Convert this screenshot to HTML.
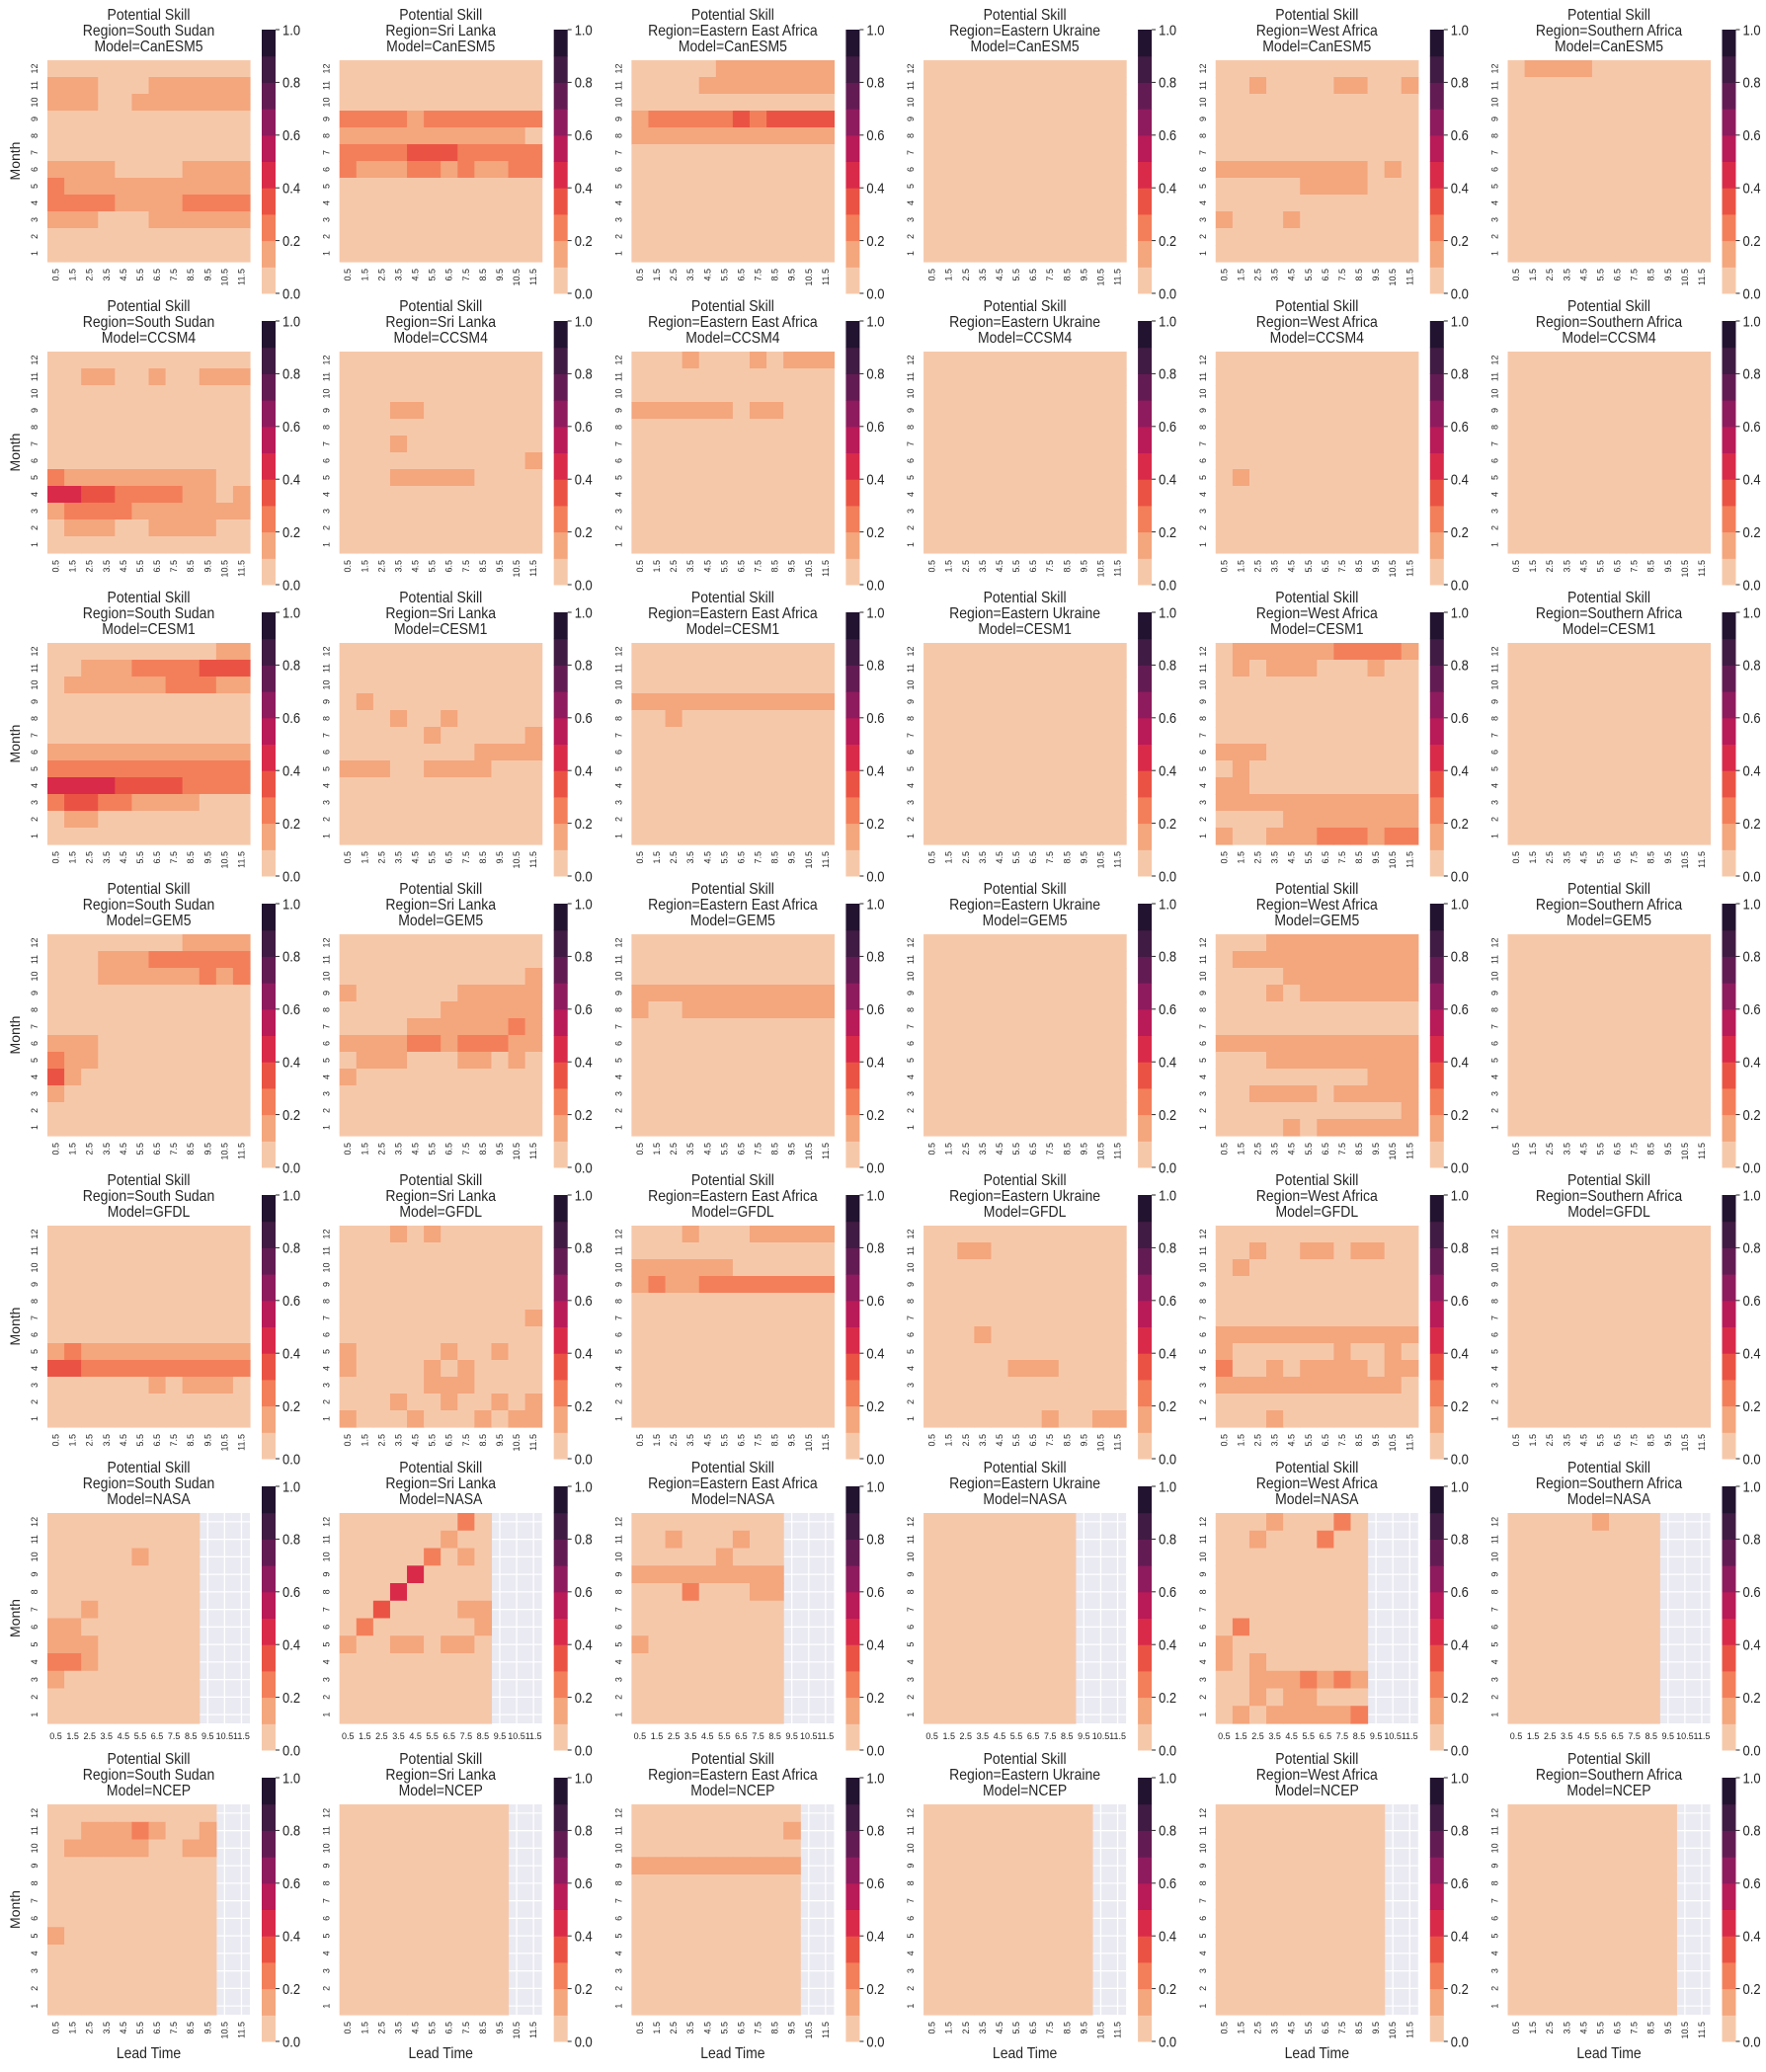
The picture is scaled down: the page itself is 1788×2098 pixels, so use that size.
<!DOCTYPE html>
<html><head><meta charset="utf-8"><title>Potential Skill heatmaps</title>
<style>
html,body{margin:0;padding:0;background:#fff;}
svg{display:block;font-family:"Liberation Sans",Arial,sans-serif;}
text{fill:#262626;}
</style></head>
<body>
<svg id="fig" width="1788" height="2098" viewBox="0 0 1788 2098" xmlns="http://www.w3.org/2000/svg"></svg>
<script>
// ---------- data ----------
const regions = ["South Sudan","Sri Lanka","Eastern East Africa","Eastern Ukraine","West Africa","Southern Africa"];
const models = ["CanESM5","CCSM4","CESM1","GEM5","GFDL","NASA","NCEP"];
const months = [12,11,10,9,8,7,6,5,4,3,2,1]; // top to bottom
const leadTimes = ["0.5","1.5","2.5","3.5","4.5","5.5","6.5","7.5","8.5","9.5","10.5","11.5"];
const cbTicks = [0.0,0.2,0.4,0.6,0.8,1.0];
const binColors = ["#f6c8aa","#f4a67d","#f37f5a","#ea5343","#d92a4a","#b91a58","#8e1b5d","#631b53","#401b43","#221330"];
// Skill bin per cell (digit d => skill ~ (d+0.5)/10); '.' = no data. Keys are months.
const skillCanESM5 = [
 {11:"111000111111",10:"111001111111",6:"111100001111",5:"211111111111",4:"222211112222",3:"111000111111"},
 {9:"222212222222",8:"111111111110",7:"222233322222",6:"211122121122"},
 {12:"000001111111",11:"000011111111",9:"122222323333",8:"111111111111"},
 {},
 {11:"001000011001",6:"111111111010",5:"000001111000",3:"100010000000"},
 {12:"011110000000"}
];
const skillCCSM4 = [
 {11:"001100100111",5:"211111111100",4:"443322221101",3:"122221111111",2:"011100111100"},
 {9:"000110000000",7:"000100000000",6:"000000000001",5:"000111110000"},
 {12:"000100010111",9:"111111011000"},
 {},
 {5:"010000000000"},
 {}
];
const skillCESM1 = [
 {12:"000000000011",11:"001112222333",10:"011111122211",6:"111111111111",5:"222222222222",4:"444433332222",3:"233221111000",2:"011000000000"},
 {9:"010000000000",8:"000100100000",7:"000001000001",6:"000000001111",5:"111001111000"},
 {9:"111111111111",8:"001000000000"},
 {},
 {12:"011111122221",11:"010111000100",6:"111000000000",5:"010000000000",4:"110000000000",3:"111111111111",2:"000011111111",1:"100111222122"},
 {}
];
const skillGEM5 = [
 {12:"000000001111",11:"000111222222",10:"000111111212",6:"111000000000",5:"211000000000",4:"310000000000",3:"100000000000"},
 {10:"000000000001",9:"100000011111",8:"000000111111",7:"000011111121",6:"111122122211",5:"011100011010",4:"100000000000"},
 {9:"111111111111",8:"100111111111"},
 {},
 {12:"000111111111",11:"011111111111",10:"000011111111",9:"000101111111",6:"111111111111",5:"000111111111",4:"000000000111",3:"001111011111",2:"000000000001",1:"000010111111"},
 {}
];
const skillGFDL = [
 {5:"121111111111",4:"332222222222",3:"000000101110"},
 {12:"000101000000",7:"000000000001",5:"100000100100",4:"100001010000",3:"000001110000",2:"000100100101",1:"100010001011"},
 {12:"000100011111",10:"111111000000",9:"121122222222"},
 {11:"001100000000",6:"000100000000",4:"000001110000",1:"000000010011"},
 {11:"001001101100",10:"010000000000",6:"111111111111",5:"100000010010",4:"200101111011",3:"111111111110",1:"000100000000"},
 {}
];
const skillNASA = [
 {10:"000001000...",7:"001000000...",6:"110000000...",5:"111000000...",4:"221000000...",3:"100000000..."},
 {12:"000000020...",11:"000000100...",10:"000002010...",9:"000040000...",8:"000400000...",7:"003000011...",6:"020000001...",5:"100110110..."},
 {11:"001000100...",10:"000001000...",9:"111111111...",8:"000200011...",5:"100000000..."},
 {},
 {12:"000100020...",11:"001000200...",6:"020000000...",5:"100000000...",4:"101000000...",3:"001112121...",2:"001011000...",1:"010111112..."},
 {12:"000001000..."}
];
const skillNCEP = [
 {11:"0011121001..",10:"0111110011..",5:"1000000000.."},
 {},
 {11:"0000000001..",9:"1111111111.."},
 {},
 {},
 {}
];
const skillByModel = [skillCanESM5,skillCCSM4,skillCESM1,skillGEM5,skillGFDL,skillNASA,skillNCEP];
const validLeads = [12,12,12,12,12,9,10];

// ---------- drawing ----------
const NS="http://www.w3.org/2000/svg";
const svg=document.getElementById('fig');
function mk(tag,attrs,parent){const e=document.createElementNS(NS,tag);for(const k in attrs)e.setAttribute(k,attrs[k]);(parent||svg).appendChild(e);return e;}
function txt(str,attrs,parent){const t=mk('text',attrs,parent);t.textContent=str;return t;}

const HW=205;
function colX(c){return 48+295.7*c;}
function cbTop(r){return 30+295*r;}
function hmTop(r){return r>=5?cbTop(r)+27:cbTop(r)+31;}
function hmH(r){return r>=5?213:204;}
const CBH=267, CBW=14;

function cellValue(panel,month,j,nValid){
  if(j>=nValid) return null;
  const s=panel[month];
  if(!s) return 0.05;
  const ch=s[j];
  if(ch==='.'||ch===undefined) return null;
  return (parseInt(ch,10)+0.5)/10;
}
function colorFor(v){return binColors[Math.min(9,Math.floor(v*10))];}

for(let r=0;r<models.length;r++){
  for(let c=0;c<regions.length;c++){
    const g=mk('g',{});
    
    
    const hx=colX(c), hy=hmTop(r), hh=hmH(r), cw=HW/12, ch=hh/12;
    const nValid=validLeads[r];
    const panel=skillByModel[r][c];
    // title
    const lines=["Potential Skill","Region="+regions[c],"Model="+models[r]];
    lines.forEach((l,i)=>{
      const t=txt(l,{x:0,y:0,'text-anchor':'middle','font-size':'14','dominant-baseline':'central',transform:`translate(${hx+HW/2},${hy-45+16*i}) scale(1,1.12)`},g);
      
      
    });
    // background + grid (visible only where data missing)
    const bg=mk('rect',{x:hx,y:hy,width:HW,height:hh,fill:'#eaeaf2'},g);
    
    
    for(let j=0;j<12;j++){mk('line',{x1:hx+(j+0.5)*cw,x2:hx+(j+0.5)*cw,y1:hy,y2:hy+hh,stroke:'#fff','stroke-width':1.3},g);}
    for(let i=0;i<12;i++){mk('line',{x1:hx,x2:hx+HW,y1:hy+(i+0.5)*ch,y2:hy+(i+0.5)*ch,stroke:'#fff','stroke-width':1.3},g);}
    // cells
    for(let i=0;i<months.length;i++){
      for(let j=0;j<leadTimes.length;j++){
        const v=cellValue(panel,months[i],j,nValid);
        if(v===null) continue;
        const rc=mk('rect',{x:hx+j*cw,y:hy+i*ch,width:cw+0.6,height:ch+0.6,fill:colorFor(v)},g);
        
        
      }
    }
    // y tick labels
    for(let i=0;i<months.length;i++){
      const cy=hy+(i+0.5)*ch, cx=hx-13;
      const t=txt(String(months[i]),{x:cx,y:cy,'text-anchor':'middle','dominant-baseline':'central','font-size':'9',transform:`rotate(-90 ${cx} ${cy})`},g);
      
      
    }
    // x tick labels
    for(let j=0;j<leadTimes.length;j++){
      const cx=hx+(j+0.5)*cw, by=hy+hh;
      let t;
      if(r===5){
        t=txt(leadTimes[j],{x:cx,y:by+13,'text-anchor':'middle','dominant-baseline':'central','font-size':'9'},g);
      }else{
        t=txt(leadTimes[j],{x:cx,y:by+7,'text-anchor':'end','dominant-baseline':'central','font-size':'9',transform:`rotate(-90 ${cx} ${by+7})`},g);
      }
      
      
    }
    // colorbar
    const cbx=hx+217, cby=cbTop(r);
    const cb=mk('g',{},g);
    
    
    for(let k=0;k<10;k++){
      const bh=CBH/10;
      mk('rect',{x:cbx,y:cby+CBH-(k+1)*bh,width:CBW,height:bh+0.5,fill:binColors[k]},cb);
    }
    cbTicks.forEach(v=>{
      const y=cby+CBH*(1-v);
      mk('line',{x1:cbx+CBW,x2:cbx+CBW+4,y1:y,y2:y,stroke:'#262626','stroke-width':1},cb);
      const t=txt(v.toFixed(1),{x:0,y:0,'font-size':'13','dominant-baseline':'central',transform:`translate(${cbx+CBW+7},${y}) scale(1,1.15)`},cb);
      
      
    });
    // axis labels
    if(c===0){
      const cy=hy+hh/2;
      const t=txt('Month',{x:15,y:cy,'text-anchor':'middle','dominant-baseline':'central','font-size':'14',transform:`rotate(-90 15 ${cy})`},g);
      
      
    }
    if(r===models.length-1){
      const t=txt('Lead Time',{x:0,y:0,'text-anchor':'middle','dominant-baseline':'central','font-size':'14',transform:`translate(${hx+HW/2},2080) scale(1,1.12)`},g);
      
      
    }
  }
}
</script>
</body></html>
